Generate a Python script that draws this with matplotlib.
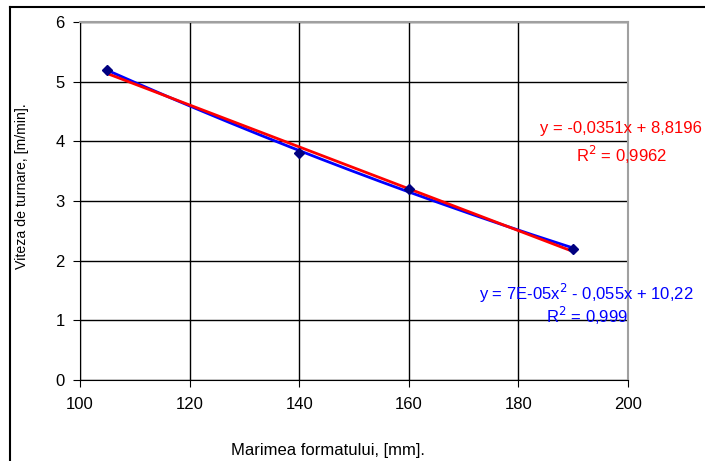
import matplotlib
matplotlib.use("Agg")
import matplotlib.pyplot as plt
from matplotlib.lines import Line2D
import numpy as np

plt.rcParams['font.family'] = ['Liberation Sans', 'DejaVu Sans']

# data
marime = [105, 140, 160, 190]
viteza = [5.2, 3.8, 3.2, 2.2]
lin_label = "y = -0,0351x + 8,8196"
lin_r2 = "R$^2$ = 0,9962"
poly_label = "y = 7E-05x$^2$ - 0,055x + 10,22"
poly_r2 = "R$^2$ = 0,999"

fig = plt.figure(figsize=(7.05, 4.61), dpi=100)
ax = fig.add_axes([80 / 705, 81 / 461, 548 / 705, 358 / 461])

# trend lines (fitted from the points, like Excel does)
xs = np.linspace(min(marime), max(marime), 200)
p2 = np.polyfit(marime, viteza, 2)
p1 = np.polyfit(marime, viteza, 1)
ax.plot(xs, np.polyval(p2, xs), color='#0000ff', lw=2, zorder=3)
ax.plot(xs, np.polyval(p1, xs), color='#ff0000', lw=2, zorder=4)
ax.plot(marime, viteza, ls='none', marker='D', ms=5, color='#000080', zorder=5)

ax.set_xlim(100, 200)
ax.set_ylim(0, 6)
ax.set_xticks(range(100, 201, 20))
ax.set_yticks(range(0, 7))
ax.grid(True, color='black', lw=1)
ax.set_axisbelow(True)
for s in ['top', 'right']:
    ax.spines[s].set_color('#a0a0a0')
    ax.spines[s].set_linewidth(1.5)
for s in ['left', 'bottom']:
    ax.spines[s].set_color('black')
ax.tick_params(direction='out', length=5, labelsize=12, colors='black', pad=6)
ax.tick_params(axis='x', pad=7)

# axis titles placed like the Excel original (x title sits left of centre)
fig.text(328 / 705, 1 - 450 / 461, "Marimea formatului, [mm].", fontsize=12,
         ha='center', va='center')
fig.text(22 / 705, 1 - 186 / 461, "Viteza de turnare, [m/min].", fontsize=10.2,
         ha='center', va='center', rotation=90)

fig.text(621 / 705, 1 - 128 / 461, lin_label, color='#ff0000', fontsize=12,
         ha='center', va='center')
fig.text(622 / 705, 1 - 155 / 461, lin_r2, color='#ff0000', fontsize=12,
         ha='center', va='center')
fig.text(586 / 705, 1 - 293 / 461, poly_label, color='#0000ff', fontsize=12,
         ha='center', va='center')
fig.text(587 / 705, 1 - 316 / 461, poly_r2, color='#0000ff', fontsize=12,
         ha='center', va='center')

# outer chart frame (left and top edges visible)
fig.add_artist(Line2D([10 / 705, 10 / 705], [0, 1 - 7 / 461], color='black', lw=1.5,
                      transform=fig.transFigure))
fig.add_artist(Line2D([10 / 705, 1], [1 - 7 / 461, 1 - 7 / 461], color='black', lw=1.5,
                      transform=fig.transFigure))

fig.savefig("out.png", dpi=100)
